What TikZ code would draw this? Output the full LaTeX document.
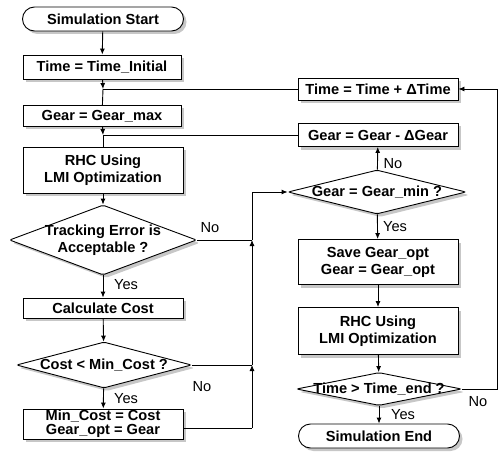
\documentclass[tikz,border=0pt]{standalone}
\usepackage{fontspec}
\setmainfont{Liberation Sans}
\usetikzlibrary{shapes.geometric,shapes.misc,arrows.meta,shadows}
\begin{document}
\begin{tikzpicture}[x=1pt,y=-1pt,
  every node/.style={inner sep=0pt},
  shad/.style={drop shadow={shadow xshift=3pt,shadow yshift=-3pt,fill=black!22,opacity=1}},
  proc/.style={draw, line width=0.9pt, fill=white, shad, font=\fontsize{14.6}{17}\selectfont\bfseries, align=center, minimum width=160pt},
  term/.style={proc, rounded rectangle},
  dia/.style={diamond, draw, line width=0.9pt, fill=white, shad, rounded corners=2pt},
  dtext/.style={font=\fontsize{14.6}{17}\selectfont\bfseries, align=center},
  lbl/.style={font=\fontsize{14.6}{16}\selectfont},
  arr/.style={-{Latex[length=6pt,width=5pt]}, line width=0.9pt},
  line/.style={line width=0.9pt}
]
\useasboundingbox (0,0) rectangle (504,452);
% left column
\node[term, minimum width=161pt, minimum height=24pt] (start) at (103,19) {Simulation Start};
\node[proc, minimum width=158pt, minimum height=24pt] (tinit) at (102,67) {Time = Time\_Initial};
\node[proc, minimum width=158pt, minimum height=21pt] (gmax) at (102,116) {Gear = Gear\_max};
\node[proc, minimum height=46pt] (rhc1) at (103,170) {RHC Using\\LMI Optimization};
\node[dia, minimum width=187pt, minimum height=70pt, label={[dtext]center:Tracking Error is\\Acceptable ?}] (track) at (103,240) {};
\node[proc, minimum height=20pt] (calc) at (103,308) {Calculate Cost};
\node[dia, minimum width=175pt, minimum height=46pt, label={[dtext]center:Cost < Min\_Cost ?}] (cost) at (104,365) {};
\node[proc, minimum height=30pt] (minc) at (103,424) {Min\_Cost = Cost\\[-3pt]Gear\_opt = Gear};
% right column
\node[proc, minimum height=22pt] (tplus) at (378,89) {Time = Time + ΔTime};
\node[proc, minimum height=23pt] (gminus) at (378,135) {Gear = Gear - ΔGear};
\node[dia, minimum width=178pt, minimum height=44pt, label={[dtext]center:Gear = Gear\_min ?}] (gmin) at (377,192) {};
\node[proc, minimum height=45pt] (save) at (378,262) {Save Gear\_opt\\Gear = Gear\_opt};
\node[proc, minimum height=47pt] (rhc2) at (378,331) {RHC Using\\LMI Optimization};
\node[dia, minimum width=165pt, minimum height=33pt, label={[dtext]center:Time > Time\_end ?}] (tend) at (379,389) {};
\node[term, minimum width=161pt, minimum height=24pt] (end) at (379,436) {Simulation End};
% junctions
\coordinate (j1) at (103,89);
\coordinate (j2) at (103,135);
\coordinate (v0) at (252,428);
\coordinate (v1) at (252,365);
\coordinate (v2) at (252,240);
\coordinate (v3) at (252,192);
\coordinate (r1) at (497,389);
\coordinate (r2) at (497,89);
% connectors
\draw[arr] (start) -- (tinit);
\draw[arr] (tinit) -- (j1);
\draw[line] (j1) -- (gmax);
\draw[line] (tplus.west) -- (j1);
\draw[arr] (gmax) -- (j2);
\draw[line] (j2) -- (rhc1);
\draw[line] (gminus.west) -- (j2);
\draw[arr] (rhc1) -- (track);
\draw[arr] (track) -- (calc);
\draw[arr] (calc) -- (cost);
\draw[arr] (cost) -- (minc);
\draw[line] (track.east) -- (v2);
\draw[line] (cost.east) -- (v1);
\draw[line] ([yshift=-4pt]minc.east) -- (v0);
\draw[arr] (v0) -- (v1);
\draw[arr] (v1) -- (v2);
\draw[arr] (v2) -- (v3) -- (gmin.west);
\draw[arr] (gmin) -- (gminus);
\draw[arr] (gmin) -- (save);
\draw[arr] (save) -- (rhc2);
\draw[arr] (rhc2) -- (tend);
\draw[arr] (tend) -- (end);
\draw[arr] (tend.east) -- (r1) -- (r2) -- (tplus.east);
% labels
\node[lbl] (l1) at (210,228) {No};
\node[lbl] (l2) at (126,285) {Yes};
\node[lbl] (l3) at (202,387) {No};
\node[lbl] (l4) at (126,399) {Yes};
\node[lbl] (l5) at (393,164) {No};
\node[lbl] (l6) at (395,227) {Yes};
\node[lbl] (l7) at (478,402) {No};
\node[lbl] (l8) at (403,415) {Yes};
\end{tikzpicture}
\end{document}
